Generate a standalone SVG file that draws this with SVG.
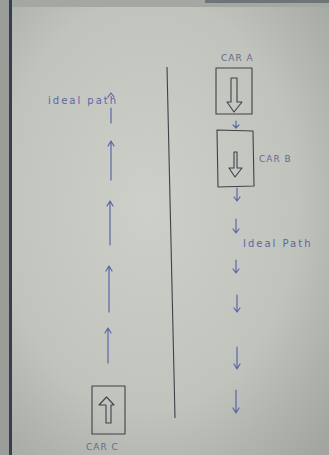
<svg xmlns="http://www.w3.org/2000/svg" width="329" height="455" viewBox="0 0 329 455">
<defs>
<radialGradient id="paper" cx="0.45" cy="0.45" r="0.75">
<stop offset="0" stop-color="#cdd0c9"/>
<stop offset="0.6" stop-color="#c1c4bd"/>
<stop offset="1" stop-color="#a2a5a0"/>
</radialGradient>
<style>
.ink{stroke:#5d66a6;stroke-width:1.2;fill:none;stroke-linecap:round;stroke-linejoin:round}
.pen{stroke:#3f4148;stroke-width:1.1;fill:none;stroke-linejoin:round}
.lbl{font-family:"DejaVu Sans",sans-serif;font-size:10px;fill:#5d66a6;letter-spacing:2px}
.car{font-family:"DejaVu Sans",sans-serif;font-size:9px;fill:#646a8c;letter-spacing:1px}
</style>
</defs>
<rect width="329" height="455" fill="url(#paper)"/>
<rect x="0" y="0" width="329" height="7" fill="#a4a8a2"/>
<rect x="205" y="0" width="124" height="3" fill="#6e7478"/>
<rect x="0" y="0" width="10" height="455" fill="#9a9d98"/>
<rect x="9" y="0" width="3" height="455" fill="#34404f"/>

<g id="divider">
<line class="pen" x1="167" y1="67" x2="175" y2="418"/>
</g>

<g id="car-a">
<text class="car" x="221" y="61">CAR A</text>
<rect class="pen" x="216" y="68" width="36" height="46"/>
<path class="pen" d="M231 78 H237 V102 H242 L234 112 L227 102 H231 Z"/>
</g>

<g id="car-b">
<text class="car" x="259" y="162">CAR B</text>
<path class="pen" d="M217 130 L253 131 L254 186 L218 187 Z"/>
<path class="pen" d="M234 152 H237 V168 H242 L235 177 L229 168 H234 Z"/>
</g>

<g id="car-c">
<rect class="pen" x="92" y="386" width="33" height="48"/>
<path class="pen" d="M106 423 V405 H99 L106.5 397 L114 405 H111 V423 Z"/>
<text class="car" x="86" y="450">CAR C</text>
</g>

<g id="labels">
<text class="lbl" x="48" y="104">ideal path</text>
<text class="lbl" x="243" y="247">Ideal Path</text>
</g>

<g id="connectors">
<!-- left upward ideal path -->
<path class="ink" d="M111 123 V108 M108 97 L111 93 L114 97"/>
<path class="ink" d="M111 180 V141 M108 146 L111 141 L114 146"/>
<path class="ink" d="M110 245 V201 M107 206 L110 201 L113 206"/>
<path class="ink" d="M109 312 V266 M106 271 L109 266 L112 271"/>
<path class="ink" d="M108 363 V328 M105 333 L108 328 L111 333"/>
<!-- right downward ideal path -->
<path class="ink" d="M236 121 V128 M233 125 L236 128 L239 125"/>
<path class="ink" d="M237 188 V201 M234 197 L237 201 L240 197"/>
<path class="ink" d="M236 219 V233 M233 229 L236 233 L239 229"/>
<path class="ink" d="M236 260 V273 M233 269 L236 273 L239 269"/>
<path class="ink" d="M237 295 V312 M234 308 L237 312 L240 308"/>
<path class="ink" d="M237 347 V369 M234 364 L237 369 L240 364"/>
<path class="ink" d="M236 390 V413 M233 408 L236 413 L239 408"/>
</g>
</svg>
